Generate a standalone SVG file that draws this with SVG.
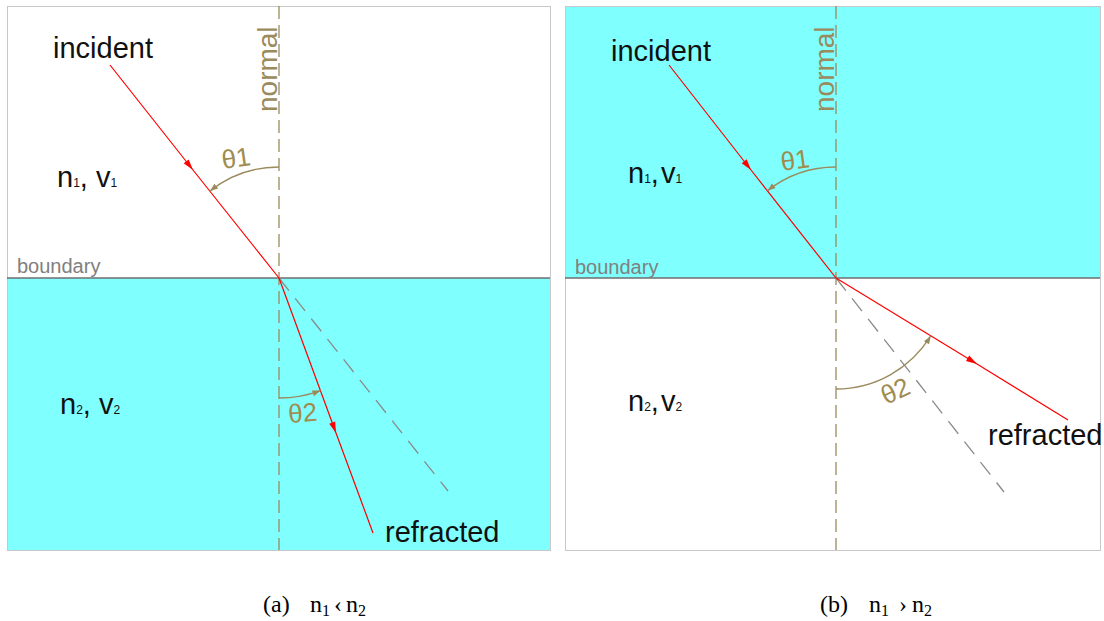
<svg xmlns="http://www.w3.org/2000/svg" width="1104" height="621" viewBox="0 0 1104 621">
<defs>
<marker id="ar" markerUnits="userSpaceOnUse" markerWidth="14" markerHeight="10" viewBox="-12 -5 14 10" refX="0" refY="0" orient="auto"><path d="M-11,-3.2 L0,0 L-11,3.2 z" fill="#ff0000"/></marker>
<marker id="ao" markerUnits="userSpaceOnUse" markerWidth="12" markerHeight="10" viewBox="-10 -5 12 10" refX="0" refY="0" orient="auto"><path d="M-8,-3 L0,0 L-8,3 z" fill="#9a8a5c"/></marker>
<style>
.panel{stroke:#c8c8c8;stroke-width:1}
.cyan{fill:#80ffff}
.bnd{stroke:#6e6e6e;stroke-width:1.5}
.normal{stroke:#9a8a5c;stroke-width:1.3;stroke-dasharray:13 6;fill:none}
.ext{stroke:#8a8a8a;stroke-width:1.3;stroke-dasharray:16 10;fill:none}
.ray{stroke:#ff0000;stroke-width:1.2;fill:none;marker-mid:url(#ar)}
.arc{stroke:#9a8a5c;stroke-width:1.3;fill:none;marker-end:url(#ao)}
.lbl{font-family:"Liberation Sans",Arial,sans-serif;font-size:29px;fill:#111}
.sub{font-size:12px}
.bt{font-family:"Liberation Sans",Arial,sans-serif;font-size:20px;fill:#808080}
.nt{font-family:"Liberation Sans",Arial,sans-serif;font-size:28px;fill:#9a8a5c}
.th{font-family:"Liberation Sans",Arial,sans-serif;font-size:26px;fill:#a08c50}
.cap{font-family:"Liberation Serif","Times New Roman",serif;font-size:24px;fill:#000}
.csub{font-size:16px}
</style>
</defs>

<g id="panel-a">
<rect x="7" y="278" width="543" height="272" class="cyan"/>
<rect x="7.5" y="6.5" width="543" height="544" fill="none" class="panel"/>
<line x1="7" y1="278" x2="550" y2="278" class="bnd"/>
<line x1="279" y1="6" x2="279" y2="550" class="normal"/>
</g>
<g id="panel-b">
<rect x="565" y="6" width="535" height="272" class="cyan"/>
<rect x="565.5" y="6.5" width="535" height="544" fill="none" class="panel"/>
<line x1="565" y1="278" x2="1100" y2="278" class="bnd"/>
<line x1="836" y1="6" x2="836" y2="550" class="normal"/>
</g>

<g id="connectors">
<line x1="279" y1="278" x2="448" y2="491" class="ext"/>
<polyline points="110,65 193,170 279,278" class="ray"/>
<polyline points="279,278 336,433 373,533" class="ray"/>
<path d="M279,167 A111,111 0 0 0 210,191" class="arc"/>
<path d="M279,398 A120,120 0 0 0 320.5,390.6" class="arc"/>

<line x1="836" y1="278" x2="1004" y2="492" class="ext"/>
<polyline points="669,65 751,170 836,278" class="ray"/>
<polyline points="836,278 977,364 1068,420" class="ray"/>
<path d="M836,167 A111,111 0 0 0 767.5,190.7" class="arc"/>
<path d="M836,389 A111,111 0 0 0 930.7,335.9" class="arc"/>
</g>

<g id="labels-a">
<text x="53" y="58" class="lbl">incident</text>
<text x="0" y="0" class="nt" transform="translate(277,112) rotate(-90)">normal</text>
<text x="57" y="187" class="lbl">n<tspan class="sub">1</tspan>, v<tspan class="sub">1</tspan></text>
<text x="17" y="273" class="bt">boundary</text>
<text x="60" y="414" class="lbl">n<tspan class="sub">2</tspan>, v<tspan class="sub">2</tspan></text>
<text x="385" y="542" class="lbl">refracted</text>
<text x="0" y="0" class="th" transform="translate(223,169) rotate(-8)">θ1</text>
<text x="0" y="0" class="th" transform="translate(289,423) rotate(-5)">θ2</text>
</g>
<g id="labels-b">
<text x="611" y="61" class="lbl">incident</text>
<text x="0" y="0" class="nt" transform="translate(834,112) rotate(-90)">normal</text>
<text x="628" y="183" class="lbl">n<tspan class="sub">1</tspan>,<tspan dx="2">v</tspan><tspan class="sub">1</tspan></text>
<text x="575" y="274" class="bt">boundary</text>
<text x="628" y="411" class="lbl">n<tspan class="sub">2</tspan>,<tspan dx="2">v</tspan><tspan class="sub">2</tspan></text>
<text x="988" y="445" class="lbl">refracted</text>
<text x="0" y="0" class="th" transform="translate(782,171) rotate(-8)">θ1</text>
<text x="0" y="0" class="th" transform="translate(886,405) rotate(-25)">θ2</text>
</g>

<g id="captions">
<text x="263" y="612" class="cap">(a)<tspan x="310">n</tspan><tspan class="csub" dy="4">1</tspan><tspan dy="-4" x="334">‹</tspan><tspan x="346">n</tspan><tspan class="csub" dy="4">2</tspan></text>
<text x="820" y="612" class="cap">(b)<tspan x="869">n</tspan><tspan class="csub" dy="4">1</tspan><tspan dy="-4" x="899">›</tspan><tspan x="912">n</tspan><tspan class="csub" dy="4">2</tspan></text>
</g>
</svg>
